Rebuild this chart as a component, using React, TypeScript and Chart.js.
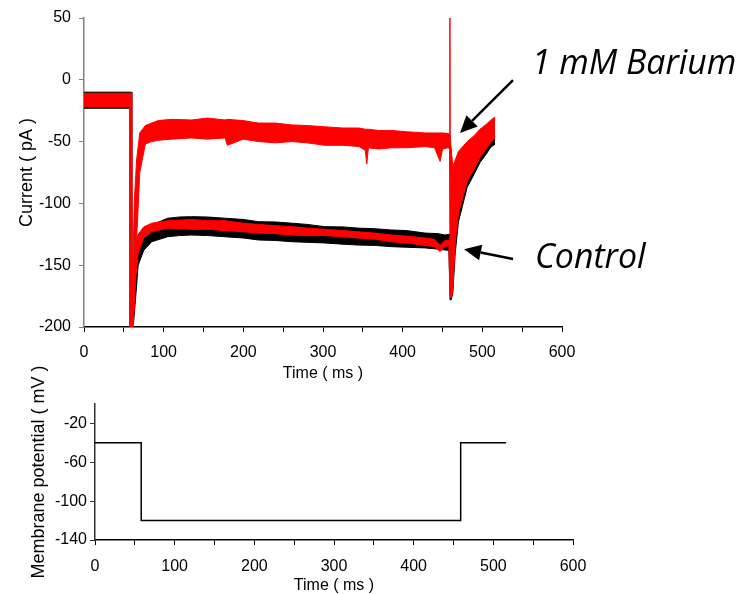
import React, { useEffect, useRef } from "react";
import { Chart, registerables } from "chart.js";

Chart.register(...registerables);

const FONT = "'Liberation Sans', Arial, Helvetica, sans-serif";

// ---- Tick labels ----
const timeLabels = [0, 100, 200, 300, 400, 500, 600];
const currentLabels = [50, 0, -50, -100, -150, -200];
const potentialLabels = [-20, -60, -100, -140];

// ---- 1 mM Barium trace (red), envelope of the noisy sweep ----
const bariumTime = [0, 57.5, 57.6, 59.6, 60, 61.5, 63, 66, 70, 77, 85, 93, 110, 135, 155, 177, 180, 200, 219, 240, 261, 280, 302, 325, 345, 353, 355, 357, 370, 386, 405, 428, 440, 447, 450, 457, 458.8, 459.6, 461.5, 463, 466, 470, 481, 490, 497, 505, 510, 516];
const bariumUpper = [-11, -11, -11, -11, -170, -146, -100, -65, -43, -37, -35, -33, -32, -32.5, -31, -32.5, -32, -33, -35, -35, -36.5, -37, -38, -39, -39, -40, -40, -40, -41, -41, -42, -43, -43, -43, -43, -43.5, -44, -45, -60, -70, -65, -58, -50, -45, -40, -36, -33, -30];
const bariumLower = [-22, -22, -200, -200, -200, -200, -185, -130, -75, -52, -50, -49, -48, -47, -48, -47, -53, -48, -50, -51, -50, -51, -53, -53, -54, -57, -68, -55, -56, -55, -55, -54, -55, -66, -56, -55, -56, -175, -175, -170, -130, -108, -81, -70, -62, -55, -50, -46];

// Capacitive spike of the barium sweep at the end of the step
const spikeTime = [459.3, 459.3, 459.5];
const spikeValues = [-45, 50, -60];

// ---- Control trace (black), envelope ----
const controlTime = [0, 57.7, 57.9, 59.5, 60, 62, 65, 68, 75, 85, 105, 120, 135, 155, 177, 200, 219, 240, 261, 280, 302, 325, 344, 365, 386, 405, 428, 445, 453, 458, 459.5, 461, 463, 466, 470, 481, 490, 497, 505, 510, 516];
const controlUpper = [-10, -10, -10, -10, -185, -160, -138, -127, -121, -117.5, -112, -111, -110.7, -111, -112, -113, -114.8, -115, -116, -117, -118.8, -119, -120, -120.5, -121.5, -122, -124, -124.5, -125.6, -125, -125, -140, -110, -85, -70, -56, -49, -43, -39, -35, -33];
const controlLower = [-23, -23, -200, -200, -200, -198, -175, -150, -138, -131, -127, -126, -125.6, -126, -127, -128, -129.6, -130, -131, -131.5, -132, -133, -133.7, -134, -135, -135.5, -136, -137, -137.7, -138, -178, -178, -172, -140, -115, -87, -76, -67, -60, -55, -52];

// ---- Red sweep overlapping the control trace ----
const redCtlTime = [60, 62, 65, 68, 75, 85, 105, 135, 155, 177, 200, 219, 240, 261, 280, 302, 325, 344, 365, 386, 405, 428, 440, 447, 453, 458, 459.5, 461, 463, 466, 470, 481, 490, 497, 505, 510, 516];
const redCtlUpper = [-180, -150, -130, -125, -119, -116, -114, -113, -114, -114, -116, -117, -118, -118.8, -120, -121, -122, -123, -124, -125.6, -126.5, -128, -129, -134, -130, -130, -130, -145, -100, -75, -62, -52, -46, -41, -37, -34, -31];
const redCtlLower = [-200, -190, -160, -140, -128, -123, -120, -121, -121, -122, -123, -124, -124.5, -125.6, -126, -126, -127, -128, -129, -131, -132, -134, -135, -139, -135, -134, -176, -176, -165, -130, -108, -82, -72, -63, -56, -51, -47];

// ---- Voltage protocol ----
const potTime = [0, 58, 58, 459, 459, 516];
const potValues = [-40, -40, -120, -120, -40, -40];

const pts = (xs: number[], ys: number[]) => xs.map((x, i) => ({ x, y: ys[i] }));

function drawArrow(ctx: CanvasRenderingContext2D, x1: number, y1: number, x2: number, y2: number) {
  const ang = Math.atan2(y2 - y1, x2 - x1);
  const headLen = 17;
  const headHalf = 8;
  const bx = x2 - headLen * Math.cos(ang);
  const by = y2 - headLen * Math.sin(ang);
  ctx.strokeStyle = "#000";
  ctx.fillStyle = "#000";
  ctx.lineWidth = 2.5;
  ctx.beginPath();
  ctx.moveTo(x1, y1);
  ctx.lineTo(bx, by);
  ctx.stroke();
  ctx.beginPath();
  ctx.moveTo(x2, y2);
  ctx.lineTo(bx + headHalf * Math.sin(ang), by - headHalf * Math.cos(ang));
  ctx.lineTo(bx - headHalf * Math.sin(ang), by + headHalf * Math.cos(ang));
  ctx.closePath();
  ctx.fill();
}

const annotationPlugin = {
  id: "annots",
  afterDraw(chart: any) {
    const { ctx, scales } = chart;
    const px = (t: number) => scales.x.getPixelForValue(t);
    const py = (v: number) => scales.y.getPixelForValue(v);
    ctx.save();
    drawArrow(ctx, px(538.5), py(-0.2), px(472), py(-43));
    drawArrow(ctx, px(538.5), py(-145), px(477), py(-137));
    ctx.fillStyle = "#000";
    ctx.font = "italic 32px 'Open Sans', 'Noto Sans', sans-serif";
    const w = ctx.measureText("1 mM Barium").width;
    const size = (32 * 205) / w;
    ctx.font = `italic ${size.toFixed(1)}px 'Open Sans', 'Noto Sans', sans-serif`;
    ctx.textBaseline = "alphabetic";
    ctx.textAlign = "left";
    ctx.fillText("1 mM Barium", px(562), py(4.7));
    ctx.fillText("Control", px(566), py(-152));
    ctx.restore();
  },
};

function band(upperX: number[], upperY: number[], lowerY: number[], color: string, order: number) {
  return [
    {
      data: pts(upperX, upperY),
      borderColor: color,
      backgroundColor: color,
      borderWidth: 1,
      pointRadius: 0,
      fill: "+1",
      order,
    },
    {
      data: pts(upperX, lowerY),
      borderColor: color,
      backgroundColor: color,
      borderWidth: 1,
      pointRadius: 0,
      fill: false,
      order,
    },
  ];
}

export default function App() {
  const topRef = useRef<HTMLCanvasElement>(null);
  const botRef = useRef<HTMLCanvasElement>(null);

  useEffect(() => {
    const red = "#ff0000";
    const top = new Chart(topRef.current!, {
      type: "line",
      data: {
        datasets: [
          ...band(bariumTime, bariumUpper, bariumLower, red, 1),
          {
            data: pts(spikeTime, spikeValues),
            borderColor: red,
            borderWidth: 1.5,
            pointRadius: 0,
            fill: false,
            order: 1,
          },
          ...band(redCtlTime, redCtlUpper, redCtlLower, red, 2),
          ...band(controlTime, controlUpper, controlLower, "#000000", 3),
        ] as any,
      },
      options: {
        responsive: false,
        animation: false,
        layout: { padding: { left: 0, top: 18, right: 180, bottom: 0 } },
        plugins: { legend: { display: false }, tooltip: { enabled: false } },
        elements: { line: { tension: 0 } },
        scales: {
          x: {
            type: "linear",
            min: 0,
            max: 600,
            afterFit: (s: any) => {
              s.height = 56;
            },
            ticks: {
              stepSize: 50,
              autoSkip: false,
              maxRotation: 0,
              padding: 11,
              color: "#000",
              font: { family: FONT, size: 16 },
              callback: (v: any) => (timeLabels.includes(Number(v)) ? String(v) : ""),
            },
            grid: { drawOnChartArea: false, drawTicks: true, tickLength: 5, tickColor: "#000", color: "#000" },
            border: { display: true, color: "#000", width: 1.5 },
            title: { display: true, text: "Time ( ms )", color: "#000", font: { family: FONT, size: 16 }, padding: { top: 0, bottom: 0 } },
          },
          y: {
            type: "linear",
            min: -200,
            max: 50,
            afterFit: (s: any) => {
              s.width = 84;
            },
            ticks: {
              stepSize: 50,
              padding: 8,
              color: "#000",
              font: { family: FONT, size: 16 },
              callback: (v: any) => (currentLabels.includes(Number(v)) ? String(v) : ""),
            },
            grid: { drawOnChartArea: false, drawTicks: true, tickLength: 5, tickColor: "#808080", color: "#808080" },
            border: { display: true, color: "#808080", width: 1.5 },
            title: { display: true, text: "Current ( pA )", color: "#000", font: { family: FONT, size: 18 }, padding: { top: 16, bottom: 0 } },
          },
        },
      } as any,
      plugins: [annotationPlugin],
    });

    const bot = new Chart(botRef.current!, {
      type: "line",
      data: {
        datasets: [
          {
            data: pts(potTime, potValues),
            borderColor: "#000",
            borderWidth: 1.5,
            pointRadius: 0,
            fill: false,
          },
        ],
      },
      options: {
        responsive: false,
        animation: false,
        layout: { padding: { left: 0, top: 49, right: 169, bottom: 0 } },
        plugins: { legend: { display: false }, tooltip: { enabled: false } },
        scales: {
          x: {
            type: "linear",
            min: 0,
            max: 600,
            afterFit: (s: any) => {
              s.height = 54;
            },
            ticks: {
              stepSize: 50,
              autoSkip: false,
              maxRotation: 0,
              padding: 12,
              color: "#000",
              font: { family: FONT, size: 16 },
              callback: (v: any) => (timeLabels.includes(Number(v)) ? String(v) : ""),
            },
            grid: { drawOnChartArea: false, drawTicks: true, tickLength: 5, tickColor: "#000", color: "#000" },
            border: { display: true, color: "#000", width: 1.5 },
            title: { display: true, text: "Time ( ms )", color: "#000", font: { family: FONT, size: 16 }, padding: { top: 0, bottom: -1 } },
          },
          y: {
            type: "linear",
            min: -140,
            max: 0,
            afterFit: (s: any) => {
              s.width = 95;
            },
            ticks: {
              stepSize: 20,
              padding: 3,
              color: "#000",
              font: { family: FONT, size: 16 },
              callback: (v: any) => (potentialLabels.includes(Number(v)) ? String(v) : ""),
            },
            grid: { drawOnChartArea: false, drawTicks: true, tickLength: 5, tickColor: "#333", color: "#333" },
            border: { display: true, color: "#333", width: 1.5 },
            title: { display: true, text: "Membrane potential ( mV )", color: "#000", font: { family: FONT, size: 18 }, padding: { top: 28, bottom: 0 } },
          },
        },
      } as any,
    });

    return () => {
      top.destroy();
      bot.destroy();
    };
  }, []);

  return (
    <div style={{ position: "absolute", left: 0, top: 0, width: 742, height: 594, background: "#fff" }}>
      <canvas ref={topRef} width={742} height={383} style={{ position: "absolute", left: 0, top: 0 }} />
      <canvas ref={botRef} width={742} height={239} style={{ position: "absolute", left: 0, top: 355 }} />
    </div>
  );
}
